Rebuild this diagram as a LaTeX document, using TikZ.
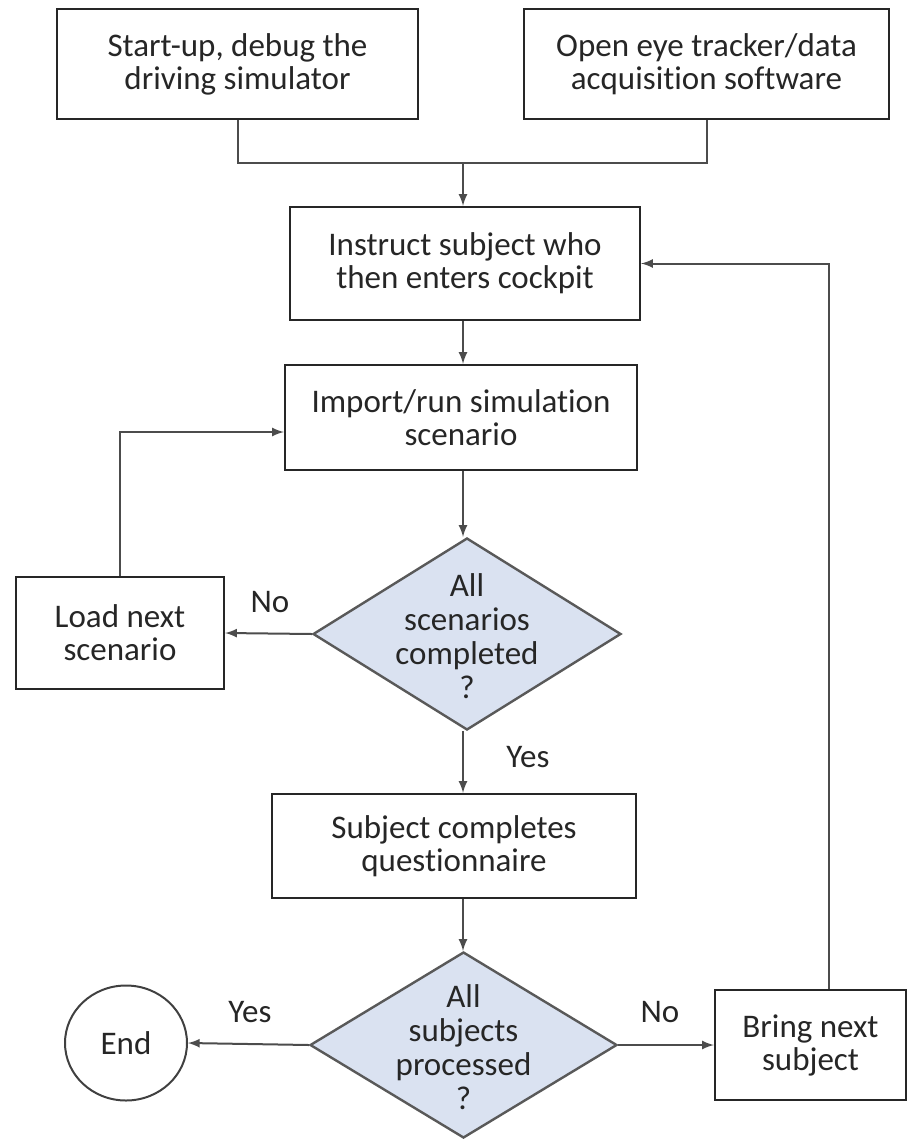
\documentclass[tikz,border=0pt]{standalone}
\usepackage{fontspec}
\setmainfont{Carlito}[Ligatures=NoCommon]
\usepackage{tikz}
\usepackage{xcolor}
\usetikzlibrary{arrows}
\usetikzlibrary{shapes}
\usetikzlibrary{calc}
\definecolor{decfill}{rgb}{0.855,0.886,0.945}
\definecolor{txt}{rgb}{0.15,0.15,0.15}

\begin{document}
\begin{tikzpicture}[x=0.5pt, y=-0.5pt,
    every node/.style={text=txt, font=\fontsize{16.5pt}{16.5pt}\selectfont},
    blk/.style={draw=black!85, line width=1.2pt, fill=white, align=center, inner sep=0pt},
    dec/.style={diamond, draw=black!65, line width=1.2pt, fill=decfill, inner sep=0pt},
    dectext/.style={align=center, font=\fontsize{16.5pt}{17pt}\selectfont},
    term/.style={ellipse, draw=black!75, line width=1pt, inner sep=0pt},
    line/.style={draw=black!70, line width=1pt},
    arr/.style={line, -latex}]
  \useasboundingbox (0,0) rectangle (917,1139);

  % boxes
  \node[blk, minimum width=180.5pt, minimum height=55pt] (startup) at (237.5,64) {Start-up, debug the\\driving simulator};
  \node[blk, minimum width=182.5pt, minimum height=55pt] (tracker) at (706.5,64) {Open eye tracker/data\\acquisition software};
  \node[blk, minimum width=175pt, minimum height=56.5pt] (instruct) at (465,263.5) {Instruct subject who\\then enters cockpit};
  \node[blk, minimum width=176pt, minimum height=52.5pt] (import) at (461,417.5) {Import/run simulation\\scenario};
  \node[blk, minimum width=104pt, minimum height=56pt] (load) at (120,633) {Load next\\scenario};
  \node[blk, minimum width=182pt, minimum height=52pt] (quest) at (454,846) {Subject completes\\questionnaire};
  \node[blk, minimum width=95.5pt, minimum height=55pt] (bring) at (810.5,1045) {Bring next\\subject};
  \node[term, minimum width=61pt, minimum height=57.5pt] (end) at (126,1043) {End};

  % decisions
  \node[dec, minimum width=154pt, minimum height=96pt] (dec1) at (467,634) {};
  \node[dectext] (dec1txt) at (467,636) {All\\scenarios\\completed\\?};
  \node[dec, minimum width=153.5pt, minimum height=93pt] (dec2) at (463.5,1045) {};
  \node[dectext] (dec2txt) at (463.5,1047) {All\\subjects\\processed\\?};

  % labels
  \node (no1) at (270,602) {No};
  \node (yes1) at (528,757) {Yes};
  \node (yes2) at (250,1012) {Yes};
  \node (no2) at (660,1012) {No};

  % connectors
  \coordinate (join) at (463,163);
  \draw[line] (startup.south) |- (join) -| (tracker.south);
  \draw[arr] (join) -- (join |- instruct.north);
  \draw[arr] (instruct.south -| join) -- (join |- import.north);
  \draw[arr] (import.south -| join) -- (dec1.north -| join);
  \draw[arr] (dec1.west) -- (load.east);
  \draw[arr] (load.north) |- ($(import.west)+(0,14.5)$);
  \draw[arr] (dec1.south -| join) -- (join |- quest.north);
  \draw[arr] (quest.south -| join) -- (dec2.north -| join);
  \draw[arr] (dec2.west) -- (end.east);
  \draw[arr] (dec2.east) -- (bring.west);
  \draw[arr] ($(bring.north)+(18,0)$) |- (instruct.east);
\end{tikzpicture}
\end{document}
